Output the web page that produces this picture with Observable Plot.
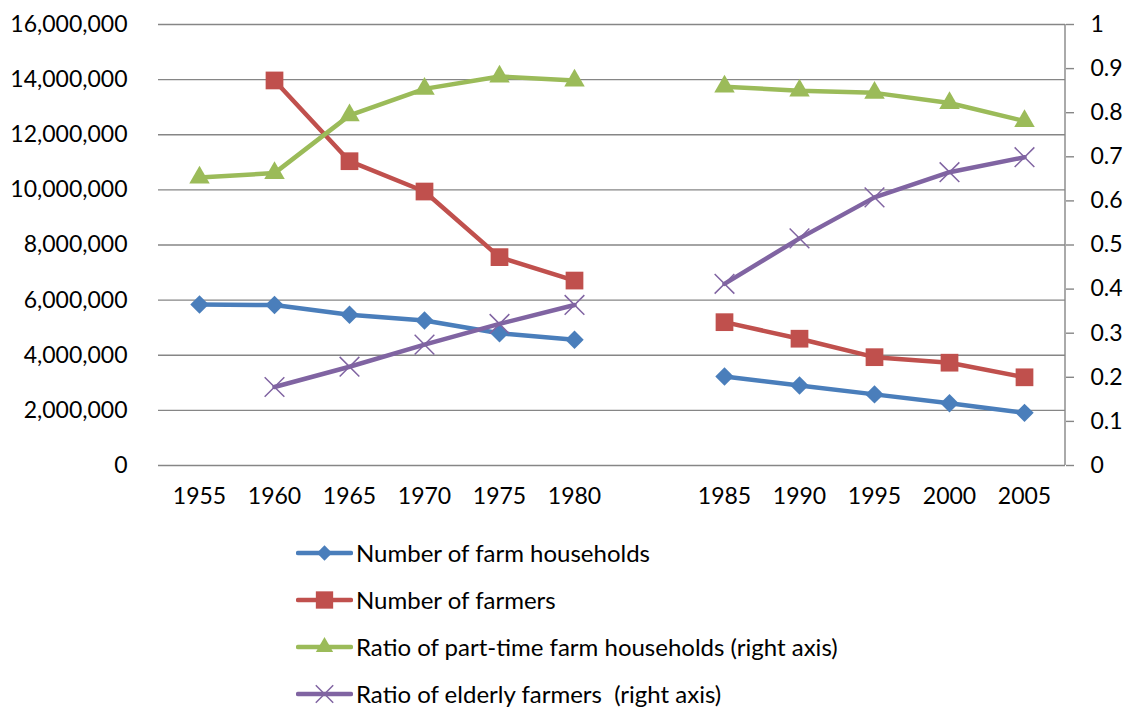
<!DOCTYPE html>
<html>
<head>
<meta charset="utf-8">
<script src="https://cdn.jsdelivr.net/npm/d3@7"></script>
<script src="https://cdn.jsdelivr.net/npm/@observablehq/plot@0.6"></script>
<style>
  html, body { margin: 0; padding: 0; background: #fff; }
  body { width: 1131px; height: 709px; overflow: hidden; font-family: Lato, "Open Sans", sans-serif; }
  #legend { margin-top: 4px; padding-left: 296px; }
  .row { display: flex; align-items: center; height: 47px; font-size: 24px; color: #000; white-space: pre; }
  .row svg { margin-right: 3px; }
</style>
</head>
<body>
<div id="chart"></div>
<div id="legend"></div>
<script>
// Categories (blank slot between 1980 and 1985 as in the reference)
const years = ["1955", "1960", "1965", "1970", "1975", "1980", "", "1985", "1990", "1995", "2000", "2005"];
// Left axis series
const farmHouseholds = [5840000, 5820000, 5470000, 5260000, 4800000, 4560000, null, 3230000, 2900000, 2580000, 2260000, 1910000];
const farmers = [null, 13970000, 11040000, 9940000, 7560000, 6710000, null, 5200000, 4600000, 3930000, 3730000, 3200000];
// Right axis series
const partTimeRatio = [0.653, 0.663, 0.794, 0.854, 0.882, 0.873, null, 0.859, 0.850, 0.845, 0.822, 0.781];
const elderlyRatio = [null, 0.178, 0.224, 0.274, 0.321, 0.364, null, 0.412, 0.515, 0.608, 0.665, 0.699];
// Tick labels
const leftTicks = [0, 2000000, 4000000, 6000000, 8000000, 10000000, 12000000, 14000000, 16000000];
const rightTicks = [0, 0.1, 0.2, 0.3, 0.4, 0.5, 0.6, 0.7, 0.8, 0.9, 1];
const seriesNames = [
  "Number of farm households",
  "Number of farmers",
  "Ratio of part-time farm households (right axis)",
  "Ratio of elderly farmers  (right axis)"
];
const colors = ["#4A7EBB", "#C0504D", "#9BBB59", "#8064A2"];

const LEFT_MAX = 16000000;
const RIGHT_MAX = 1;
const k = LEFT_MAX / RIGHT_MAX;

function rows(values, scale) {
  return years.map((year, i) => ({year, y: values[i] == null ? null : values[i] * scale}));
}
const sHouse = rows(farmHouseholds, 1);
const sFarm = rows(farmers, 1);
const sPart = rows(partTimeRatio, k);
const sOld = rows(elderlyRatio, k);

const lw = 4.5;
const W = 1131, H = 525, mL = 158, mR = 66, mT = 24, mB = 60;

const plot = Plot.plot({
  width: W,
  height: H,
  marginLeft: mL,
  marginRight: mR,
  marginTop: mT,
  marginBottom: mB,
  style: {fontFamily: "Lato, 'Open Sans', sans-serif", fontSize: "23px", color: "#000", background: "#fff"},
  x: {type: "point", domain: years, padding: 0.5},
  y: {domain: [0, LEFT_MAX]},
  marks: [
    Plot.gridY(leftTicks, {stroke: "#868686", strokeOpacity: 1, strokeWidth: 1.4}),
    Plot.axisY(leftTicks, {anchor: "left", tickSize: 0, tickPadding: 31, tickFormat: d3.format(","), label: null, fontSize: 23}),
    Plot.axisY(rightTicks.map(t => t * k), {anchor: "right", tickSize: 8, tickPadding: 17, stroke: "#868686", strokeWidth: 1.4, fill: "#000", tickFormat: d => String(+(d / k).toFixed(1)), label: null, fontSize: 23}),
    Plot.axisX({tickSize: 0, tickPadding: 22, label: null, fontSize: 23}),
    // farm households
    Plot.line(sHouse, {x: "year", y: "y", stroke: colors[0], strokeWidth: lw}),
    Plot.dot(sHouse, {x: "year", y: "y", symbol: "diamond2", r: 8.3, fill: colors[0], stroke: "none"}),
    // farmers
    Plot.line(sFarm, {x: "year", y: "y", stroke: colors[1], strokeWidth: lw}),
    Plot.dot(sFarm, {x: "year", y: "y", symbol: "square", r: 10, fill: colors[1], stroke: "none"}),
    // part-time ratio
    Plot.line(sPart, {x: "year", y: "y", stroke: colors[2], strokeWidth: lw}),
    Plot.dot(sPart, {x: "year", y: "y", symbol: "triangle", r: 7.6, fill: colors[2], stroke: "none"}),
    // elderly ratio
    Plot.line(sOld, {x: "year", y: "y", stroke: colors[3], strokeWidth: lw}),
    Plot.dot(sOld, {x: "year", y: "y", symbol: "times", r: 9, fill: "none", stroke: colors[3], strokeWidth: 1.5})
  ]
});

// right axis line
d3.select(plot).append("line")
  .attr("x1", W - mR).attr("x2", W - mR)
  .attr("y1", mT).attr("y2", H - mB)
  .attr("stroke", "#868686").attr("stroke-width", 1.4);

document.getElementById("chart").appendChild(plot);

// Legend
const symbols = [
  {type: d3.symbolDiamond2, size: 150, fill: true},
  {type: d3.symbolSquare, size: 300, fill: true},
  {type: d3.symbolTriangle, size: 130, fill: true},
  {type: d3.symbolTimes, size: 200, fill: false}
];
const legend = d3.select("#legend");
seriesNames.forEach((name, i) => {
  const row = legend.append("div").attr("class", "row");
  const svg = row.append("svg").attr("width", 57).attr("height", 26);
  svg.append("line").attr("x1", 2).attr("x2", 55).attr("y1", 13).attr("y2", 13)
    .attr("stroke", colors[i]).attr("stroke-width", lw).attr("stroke-linecap", "round");
  const s = symbols[i];
  svg.append("path")
    .attr("transform", "translate(28.5,13)")
    .attr("d", d3.symbol(s.type, s.size)())
    .attr("fill", s.fill ? colors[i] : "none")
    .attr("stroke", s.fill ? "none" : colors[i])
    .attr("stroke-width", 1.5);
  row.append("span").text(name);
});
</script>
</body>
</html>
